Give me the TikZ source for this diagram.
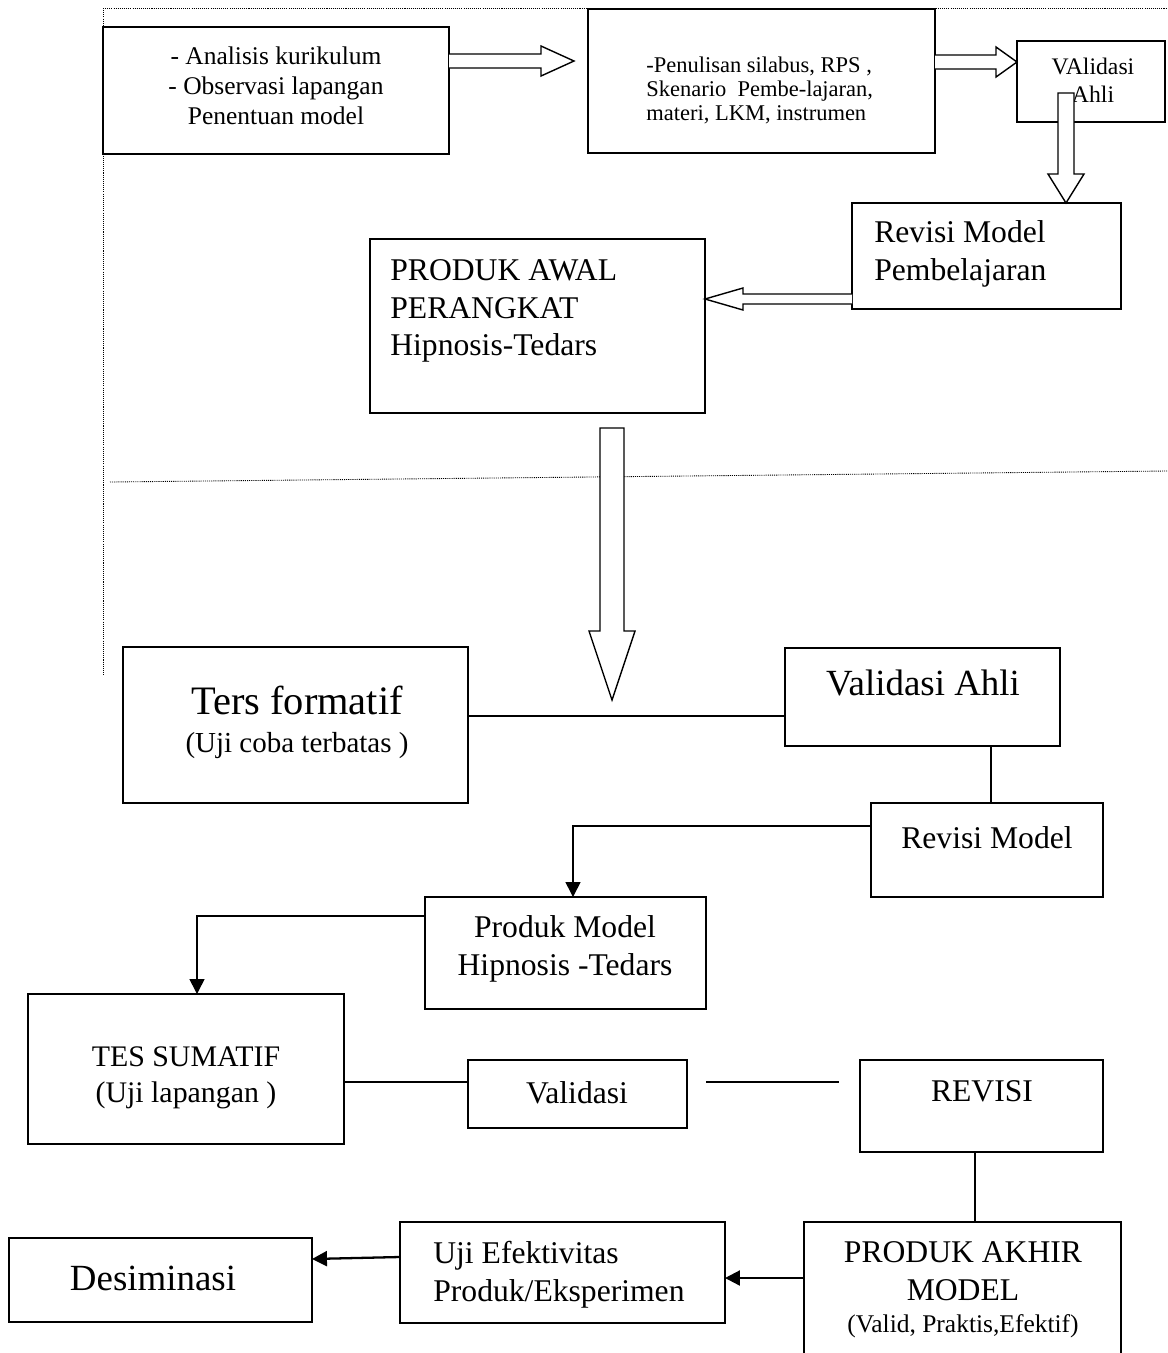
\documentclass[tikz,border=0pt]{standalone}
\usepackage{fontspec}
\setmainfont{Liberation Serif}
\usetikzlibrary{arrows.meta}

\tikzset{
  box/.style={draw, line width=1pt, inner sep=0pt, outer sep=0pt},
  boxsize/.style 2 args={minimum width=#1*0.02cm, minimum height=#2*0.02cm},
  txt/.style={inner sep=0pt, align=center},
  hollow/.style={draw, line width=0.8pt, fill=white, line join=miter},
  conn/.style={line width=0.9pt},
  boldconn/.style={line width=1.3pt},
  arrowtip/.style={-{Triangle[length=8.5pt,width=8.5pt]}},
  guide/.style={line width=0.5pt, dash pattern=on 0.6pt off 0.6pt},
  fa/.style={font=\fontsize{14.5}{17}\selectfont},
  fb/.style={font=\fontsize{12.8}{13.7}\selectfont},
  fc/.style={font=\fontsize{13.5}{16}\selectfont},
  fm/.style={font=\fontsize{18}{21.5}\selectfont},
  fj/.style={font=\fontsize{17}{20.5}\selectfont},
  fsm/.style={font=\fontsize{16.5}{19}\selectfont},
  fv/.style={font=\fontsize{14.5}{17}\selectfont},
  fl/.style={font=\fontsize{21}{25}\selectfont},
  fxl/.style={font=\fontsize{23}{27}\selectfont},
}

\begin{document}
\begin{tikzpicture}[x=0.02cm, y=-0.02cm]
  \clip (0,0) rectangle (1167,1353);
  \fill[white] (0,0) rectangle (1167,1353);

  % dotted guide lines
  \draw[guide] (103,8) -- (1167,8);
  \draw[guide] (103,8) -- (103,676);
  \draw[guide] (110,482) -- (1167,471);

  % first stage boxes
  \node[box, boxsize={346}{127}] (anl) at (276,90.5) {};
  \node[txt, fa] (anlt) at (276,86) {- Analisis kurikulum\\- Observasi lapangan\\Penentuan model};

  \node[box, boxsize={347}{144}] (pen) at (761.5,81) {};
  \node[txt, fb, align=left, anchor=west] (pent) at (646,90) {-Penulisan silabus, RPS ,\\Skenario~ Pembe-lajaran,\\materi, LKM, instrumen};

  \node[box, boxsize={148}{81}] (valc) at (1091,81.5) {};
  \node[txt, fc] (valct) at (1093,80) {VAlidasi\\Ahli};

  \node[box, boxsize={269}{106}] (revpb) at (986.5,256) {};
  \node[txt, fm, align=left, anchor=west] (revpbt) at (874,254) {Revisi Model\\Pembelajaran};

  \node[box, boxsize={335}{174}] (awal) at (537.5,326) {};
  \node[txt, fm, align=left, anchor=west] (awalt) at (390,311) {PRODUK AWAL\\PERANGKAT\\Hipnosis-Tedars};

  % hollow arrows
  \draw[hollow] (anl.east |- 0,54) -- ++(92,0) -- ++(0,-8) -- ++(33,15) -- ++(-33,15) -- ++(0,-8) -- ++(-92,0);
  \draw[hollow] (pen.east |- 0,55) -- ++(61,0) -- ++(0,-8) -- ++(21,15) -- ++(-21,15) -- ++(0,-8) -- ++(-61,0);
  \draw[hollow] (revpb.north -| 1066,0) -- ++(18,-29) -- ++(-10,0) -- ++(0,-81) -- ++(-16,0) -- ++(0,81) -- ++(-10,0) -- cycle;
  \draw[hollow] (revpb.west |- 0,294) -- ++(-109,0) -- ++(0,-6) -- ++(-38,11) -- ++(38,11) -- ++(0,-6) -- ++(109,0);

  % big arrow down
  \coordinate (awaltip) at (612,700);
  \draw[hollow] (awaltip) -- ++(23,-69) -- ++(-11,0) -- ++(0,-203) -- ++(-24,0) -- ++(0,203) -- ++(-11,0) -- cycle;

  % second stage boxes
  \node[box, boxsize={345}{156}] (ters) at (295.5,725) {};
  \node[txt, fxl] (terst) at (297,700) {Ters formatif};
  \node[txt, fsm] (terss) at (297,746) {(Uji coba terbatas )};

  \node[box, boxsize={275}{98}] (valahli) at (922.5,697) {};
  \node[txt, fl] (valahlit) at (923,683) {Validasi Ahli};

  \node[box, boxsize={232}{94}] (revmod) at (987,850) {};
  \node[txt, fm] (revmodt) at (987,838) {Revisi Model};

  \node[box, boxsize={281}{112}] (prodmod) at (565.5,953) {};
  \node[txt, fm] (prodmodt) at (565,949) {Produk Model\\Hipnosis -Tedars};

  \draw[conn] (ters.east |- 0,716) -- (valahli.west |- 0,716);
  \draw[conn] (valahli.south -| 991,0) -- (revmod.north -| 991,0);
  \draw[conn, arrowtip] (revmod.west |- 0,826) -| (prodmod.north -| 573,0);

  % third stage boxes
  \node[box, boxsize={316}{150}] (tes) at (186,1069) {};
  \node[txt, fj] (test) at (186,1078) {TES SUMATIF\\(Uji lapangan )};

  \node[box, boxsize={219}{68}] (val) at (577.5,1094) {};
  \node[txt, fm] (valt) at (577,1093) {Validasi};

  \node[box, boxsize={243}{92}] (revisi) at (981.5,1106) {};
  \node[txt, fm] (revisit) at (982,1091) {REVISI};

  \draw[conn, arrowtip] (prodmod.west |- 0,916) -| (tes.north -| 197,0);
  \draw[conn] (tes.east |- 0,1082) -- (val.west |- 0,1082);
  \coordinate (vgap) at (706,1082);
  \coordinate (rgap) at (839,1082);
  \draw[conn] (vgap) -- (rgap);

  % final boxes
  \node[box, boxsize={317}{178}] (akhir) at (962.5,1311) {};
  \node[txt, fm] (akhirt) at (963,1271.5) {PRODUK AKHIR\\MODEL};
  \node[txt, fv] (akhirs) at (963,1326) {(Valid, Praktis,Efektif)};

  \node[box, boxsize={325}{101}] (uji) at (562.5,1272.5) {};
  \node[txt, fm, align=left, anchor=west] (ujit) at (433,1275) {Uji Efektivitas\\Produk/Eksperimen};

  \node[box, boxsize={303}{84}] (desim) at (160.5,1280) {};
  \node[txt, fl] (desimt) at (153,1278) {Desiminasi};

  \draw[conn] (revisi.south -| 975,0) -- (akhir.north -| 975,0);
  \draw[boldconn, arrowtip] (akhir.west |- 0,1278) -- (uji.east |- 0,1278);
  \draw[boldconn, arrowtip] (uji.west |- 0,1257) -- (desim.east |- 0,1259);
\end{tikzpicture}
\end{document}
